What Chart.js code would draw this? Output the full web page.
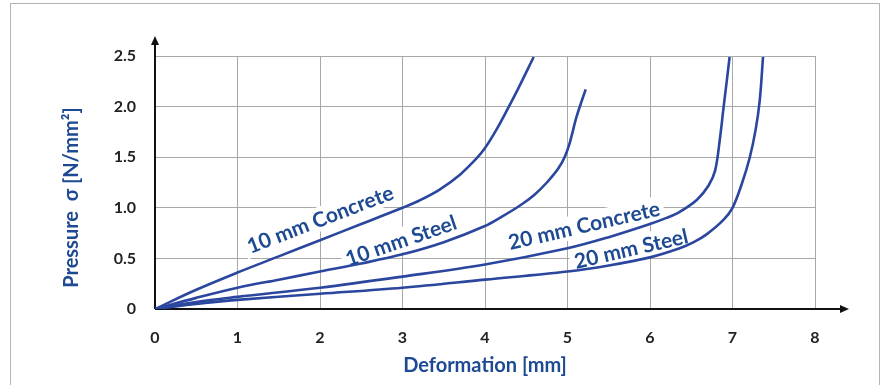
<!DOCTYPE html>
<html lang="en">
<head>
<meta charset="UTF-8">
<title>Pressure vs Deformation</title>
<script src="https://cdn.jsdelivr.net/npm/chart.js"></script>
<style>
  body { margin: 0; background: #fff; }
  #wrap { width: 882px; height: 385px; }
</style>
</head>
<body>
<div id="wrap"><canvas id="chart" width="882" height="385"></canvas></div>
<script>
// values: deformation [mm] -> pressure [N/mm2]
const seriesNames = ['10 mm Concrete', '10 mm Steel', '20 mm Concrete', '20 mm Steel'];

const concrete10X = [0, 0.5, 1, 1.5, 2, 2.5, 3, 3.2, 3.45, 3.7, 3.9, 4, 4.13, 4.27, 4.41, 4.59];
const concrete10Y = [0, 0.19, 0.36, 0.52, 0.68, 0.84, 1.0, 1.07, 1.18, 1.33, 1.49, 1.59, 1.76, 1.97, 2.19, 2.49];

const steel10X = [0, 0.5, 1, 1.5, 2, 2.5, 3, 3.5, 4, 4.2, 4.42, 4.6, 4.75, 4.89, 4.97, 5.03, 5.11, 5.22];
const steel10Y = [0, 0.11, 0.21, 0.29, 0.37, 0.45, 0.54, 0.66, 0.82, 0.91, 1.02, 1.13, 1.25, 1.39, 1.51, 1.65, 1.9, 2.17];

const concrete20X = [0, 0.5, 1, 2, 3, 4, 5, 5.5, 6, 6.2, 6.36, 6.57, 6.71, 6.79, 6.85, 6.89, 6.93, 6.965];
const concrete20Y = [0, 0.07, 0.12, 0.21, 0.32, 0.44, 0.6, 0.71, 0.84, 0.9, 0.96, 1.08, 1.22, 1.37, 1.7, 1.98, 2.25, 2.49];

const steel20X = [0, 0.5, 1, 2, 3, 4, 5, 5.5, 6, 6.36, 6.53, 6.69, 6.89, 7, 7.11, 7.21, 7.28, 7.33, 7.37];
const steel20Y = [0, 0.05, 0.09, 0.15, 0.21, 0.29, 0.37, 0.43, 0.51, 0.6, 0.66, 0.74, 0.88, 1.0, 1.23, 1.5, 1.77, 2.06, 2.49];

const xTicks = [0, 1, 2, 3, 4, 5, 6, 7, 8];
const yTicks = ['0', '0.5', '1.0', '1.5', '2.0', '2.5'];

const lineColor = '#2a469e';
const textBlue = '#1d4a92';
const gridColor = '#a8a8a8';

function zip(xs, ys) {
    return xs.map((x, i) => ({ x: x, y: ys[i] }));
}

// where the curve names sit (data units) and their tilt
const curveLabels = [
    { text: seriesNames[0], x: 2.0, y: 0.89, angle: -21 },
    { text: seriesNames[1], x: 2.98, y: 0.68, angle: -19 },
    { text: seriesNames[2], x: 5.2, y: 0.83, angle: -13 },
    { text: seriesNames[3], x: 5.77, y: 0.60, angle: -13 }
];

const decorPlugin = {
    id: 'decor',
    beforeDraw(chart) {
        const ctx = chart.ctx;
        ctx.save();
        ctx.fillStyle = '#fff';
        ctx.fillRect(0, 0, chart.width, chart.height);
        ctx.strokeStyle = '#b4b4b4';
        ctx.lineWidth = 1;
        ctx.strokeRect(10.5, 3.5, 869, 400);
        ctx.restore();
    },
    beforeDatasetsDraw(chart) {
        const ctx = chart.ctx;
        const xs = chart.scales.x, ys = chart.scales.y;
        const x0 = xs.getPixelForValue(0), y0 = ys.getPixelForValue(0);

        // curve labels on a white box
        ctx.save();
        ctx.font = 'bold 21px Lato';
        ctx.textAlign = 'center';
        ctx.textBaseline = 'middle';
        curveLabels.forEach(l => {
            const px = xs.getPixelForValue(l.x), py = ys.getPixelForValue(l.y);
            const w = ctx.measureText(l.text).width;
            ctx.save();
            ctx.translate(px, py);
            ctx.rotate(l.angle * Math.PI / 180);
            ctx.fillStyle = '#fff';
            ctx.fillRect(-w / 2 - 4, -12, w + 8, 24);
            ctx.fillStyle = textBlue;
            ctx.fillText(l.text, 0, 1);
            ctx.restore();
        });
        ctx.restore();

        // axes with arrow heads
        ctx.save();
        ctx.strokeStyle = '#111';
        ctx.fillStyle = '#111';
        ctx.lineWidth = 2;
        const xEnd = 842, yEnd = 43;
        ctx.beginPath();
        ctx.moveTo(x0, y0);
        ctx.lineTo(xEnd, y0);
        ctx.moveTo(x0, y0);
        ctx.lineTo(x0, yEnd);
        ctx.stroke();
        ctx.beginPath();
        ctx.moveTo(xEnd + 7, y0);
        ctx.lineTo(xEnd - 2, y0 - 4);
        ctx.lineTo(xEnd - 2, y0 + 4);
        ctx.closePath();
        ctx.fill();
        ctx.beginPath();
        ctx.moveTo(x0, yEnd - 7);
        ctx.lineTo(x0 - 4, yEnd + 2);
        ctx.lineTo(x0 + 4, yEnd + 2);
        ctx.closePath();
        ctx.fill();
        ctx.restore();
    }
};

const datasets = [
    zip(concrete10X, concrete10Y),
    zip(steel10X, steel10Y),
    zip(concrete20X, concrete20Y),
    zip(steel20X, steel20Y)
].map((pts, i) => ({
    label: seriesNames[i],
    data: pts,
    borderColor: lineColor,
    borderWidth: 2.6,
    pointRadius: 0,
    fill: false,
    tension: 0.35
}));

const tickFont = { family: 'Lato', size: 16, weight: 'bold' };
const titleFont = { family: 'Lato', size: 20, weight: 'bold' };

new Chart(document.getElementById('chart'), {
    type: 'line',
    data: { datasets: datasets },
    options: {
        responsive: false,
        animation: false,
        layout: { padding: { top: 56, right: 67, left: 0, bottom: 0 } },
        plugins: { legend: { display: false }, tooltip: { enabled: false } },
        scales: {
            x: {
                type: 'linear',
                min: 0,
                max: 8,
                afterBuildTicks: s => { s.ticks = xTicks.map(v => ({ value: v })); },
                afterFit: s => { s.height = 76; },
                ticks: { color: '#222', font: tickFont, padding: 19, callback: v => String(v) },
                grid: { color: c => c.tick && c.tick.value === 0 ? 'rgba(0,0,0,0)' : gridColor, drawTicks: false },
                border: { display: false },
                title: {
                    display: true,
                    text: 'Deformation [mm]',
                    color: textBlue,
                    font: titleFont,
                    padding: { top: 0, bottom: 7 }
                }
            },
            y: {
                min: 0,
                max: 2.5,
                afterBuildTicks: s => { s.ticks = yTicks.map(v => ({ value: parseFloat(v) })); },
                afterFit: s => { s.width = 155; },
                ticks: { color: '#222', font: tickFont, padding: 19, callback: (v, i) => yTicks[i] },
                grid: { color: c => c.tick && c.tick.value === 0 ? 'rgba(0,0,0,0)' : gridColor, drawTicks: false },
                border: { display: false },
                title: {
                    display: true,
                    text: 'Pressure  σ [N/mm²]\u2003\u2003',
                    color: textBlue,
                    font: titleFont,
                    padding: { top: 60, bottom: 0 }
                }
            }
        }
    },
    plugins: [decorPlugin]
});
</script>
</body>
</html>
